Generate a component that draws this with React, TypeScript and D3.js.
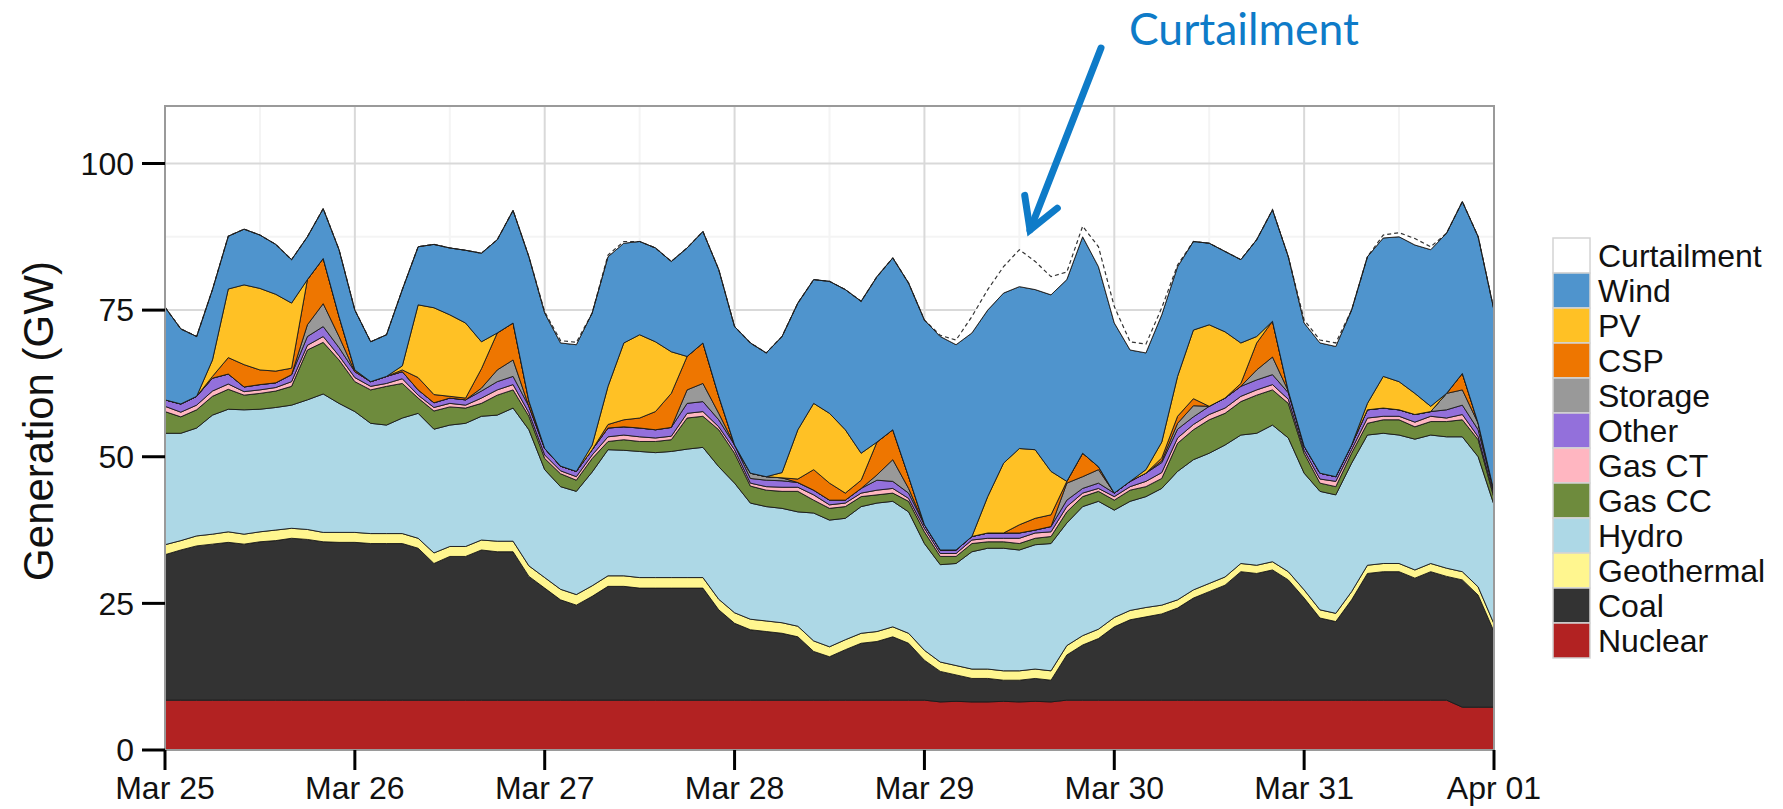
import React from "react";
import * as d3 from "d3";

// Hours since Mar 25 00:00 (2-hour sampling)
const hours = [
  0, 2, 4, 6, 8, 10, 12, 14, 16, 18, 20, 22,
  24, 26, 28, 30, 32, 34, 36, 38, 40, 42, 44, 46,
  48, 50, 52, 54, 56, 58, 60, 62, 64, 66, 68, 70,
  72, 74, 76, 78, 80, 82, 84, 86, 88, 90, 92, 94,
  96, 98, 100, 102, 104, 106, 108, 110, 112, 114, 116, 118,
  120, 122, 124, 126, 128, 130, 132, 134, 136, 138, 140, 142,
  144, 146, 148, 150, 152, 154, 156, 158, 160, 162, 164, 166,
  168,
];

const nuclear = [
  8.5, 8.5, 8.5, 8.5, 8.5, 8.5, 8.5, 8.5, 8.5, 8.5, 8.5, 8.5,
  8.5, 8.5, 8.5, 8.5, 8.5, 8.5, 8.5, 8.5, 8.5, 8.5, 8.5, 8.5,
  8.5, 8.5, 8.5, 8.5, 8.5, 8.5, 8.5, 8.5, 8.5, 8.5, 8.5, 8.5,
  8.5, 8.5, 8.5, 8.5, 8.5, 8.5, 8.5, 8.5, 8.5, 8.5, 8.5, 8.5,
  8.5, 8.2, 8.3, 8.2, 8.2, 8.3, 8.2, 8.3, 8.2, 8.5, 8.5, 8.5,
  8.5, 8.5, 8.5, 8.5, 8.5, 8.5, 8.5, 8.5, 8.5, 8.5, 8.5, 8.5,
  8.5, 8.5, 8.5, 8.5, 8.5, 8.5, 8.5, 8.5, 8.5, 8.5, 7.3, 7.3,
  7.3,
];

const coal = [
  24.8, 25.6, 26.3, 26.6, 26.9, 26.6, 27.0, 27.2, 27.6, 27.4, 27.0, 26.9,
  26.9, 26.7, 26.7, 26.7, 25.9, 23.3, 24.5, 24.5, 25.6, 25.3, 25.3, 21.1,
  19.1, 17.1, 16.2, 17.7, 19.4, 19.4, 19.1, 19.1, 19.1, 19.1, 19.1, 15.4,
  13.1, 12.0, 11.7, 11.4, 10.8, 8.3, 7.4, 8.6, 9.7, 10.0, 10.8, 9.7,
  6.8, 5.2, 4.5, 4.0, 4.0, 3.6, 3.7, 3.9, 3.7, 7.7, 9.4, 10.5,
  12.5, 13.7, 14.2, 14.7, 15.7, 17.4, 18.5, 19.6, 21.9, 21.6, 22.2, 20.5,
  17.4, 14.0, 13.4, 17.1, 21.6, 21.9, 21.9, 20.8, 21.9, 21.1, 21.7, 19.1,
  12.9,
];

const geothermal = [
  1.7, 1.6, 1.7, 1.7, 1.8, 1.7, 1.7, 1.8, 1.7, 1.7, 1.6, 1.7,
  1.7, 1.7, 1.7, 1.7, 1.7, 1.8, 1.7, 1.7, 1.7, 1.8, 1.8, 1.8,
  1.8, 1.8, 1.8, 1.8, 1.8, 1.8, 1.8, 1.8, 1.8, 1.8, 1.8, 1.8,
  1.8, 1.8, 1.8, 1.8, 1.8, 1.8, 1.7, 1.7, 1.7, 1.7, 1.7, 1.7,
  1.7, 1.6, 1.6, 1.6, 1.6, 1.6, 1.6, 1.6, 1.6, 1.6, 1.6, 1.6,
  1.6, 1.6, 1.6, 1.5, 1.4, 1.4, 1.4, 1.4, 1.4, 1.4, 1.4, 1.4,
  1.4, 1.4, 1.4, 1.4, 1.4, 1.4, 1.4, 1.4, 1.4, 1.4, 1.4, 1.4,
  1.3,
];

const hydro = [
  19.0, 18.3, 18.4, 20.3, 20.9, 21.2, 20.9, 20.9, 21.0, 22.1, 23.6, 22.0,
  20.6, 18.8, 18.5, 19.7, 21.3, 21.1, 20.7, 21.0, 21.1, 21.5, 22.7, 23.2,
  18.4, 17.5, 17.6, 19.4, 21.5, 21.4, 21.5, 21.3, 21.5, 21.9, 22.2, 22.6,
  22.1, 19.8, 19.5, 19.5, 19.5, 21.8, 21.6, 20.7, 21.6, 21.9, 21.4, 20.7,
  18.2, 16.6, 17.4, 20.0, 20.6, 20.9, 20.6, 21.2, 21.7, 20.9, 22.0, 21.8,
  18.3, 18.6, 18.9, 19.9, 21.9, 22.2, 22.2, 22.5, 21.9, 22.5, 23.3, 22.8,
  19.9, 20.2, 20.2, 21.9, 22.2, 22.2, 21.9, 22.3, 21.9, 22.4, 23.0, 22.2,
  20.3,
];

const gasCC = [
  3.7, 2.8, 3.1, 3.2, 3.4, 2.5, 2.7, 2.8, 3.2, 8.5, 8.8, 7.4,
  5.1, 5.7, 6.6, 5.9, 2.6, 3.1, 3.1, 2.6, 2.2, 3.4, 3.1, 2.3,
  1.9, 2.2, 1.9, 2.3, 1.4, 1.8, 1.7, 1.9, 2.0, 5.3, 5.3, 6.3,
  5.1, 2.9, 2.8, 2.9, 3.5, 2.2, 2.0, 2.0, 1.7, 1.4, 1.4, 1.8,
  2.0, 1.4, 1.2, 1.4, 1.1, 1.1, 1.1, 1.1, 1.2, 1.9, 1.7, 1.7,
  1.7, 1.9, 1.7, 1.7, 4.8, 5.1, 5.7, 5.4, 5.7, 6.5, 6.0, 5.9,
  3.4, 1.4, 1.4, 1.7, 2.0, 2.3, 2.6, 2.1, 2.3, 2.6, 2.9, 2.9,
  1.2,
];

const gasCT = [
  0.9, 0.8, 0.8, 0.9, 0.9, 0.6, 0.6, 0.6, 0.8, 0.8, 1.0, 0.7,
  0.7, 0.6, 0.5, 0.8, 0.5, 0.6, 0.6, 0.5, 0.9, 0.9, 0.9, 0.6,
  0.6, 0.5, 0.6, 0.6, 0.8, 0.8, 0.8, 0.6, 0.6, 0.8, 0.8, 0.5,
  0.6, 0.5, 0.6, 0.7, 0.7, 0.9, 0.6, 0.6, 0.6, 0.8, 0.8, 0.5,
  0.6, 0.5, 0.5, 0.6, 0.6, 0.6, 0.9, 0.9, 0.8, 0.9, 0.6, 0.5,
  0.6, 0.6, 0.9, 1.0, 0.9, 0.9, 0.9, 0.9, 0.9, 0.9, 0.9, 0.7,
  0.5, 0.7, 0.9, 0.6, 0.9, 0.6, 0.6, 0.8, 0.9, 0.6, 0.9, 0.5,
  0.5,
];

const other = [
  1.1, 1.4, 1.5, 2.2, 1.7, 0.8, 0.9, 0.8, 1.2, 1.5, 1.7, 1.4,
  1.0, 0.8, 1.2, 1.2, 0.9, 0.8, 0.9, 0.9, 1.2, 1.4, 1.4, 1.1,
  1.1, 0.8, 0.9, 0.9, 1.5, 1.4, 1.5, 1.4, 1.5, 1.7, 1.7, 1.2,
  0.8, 0.8, 1.1, 1.1, 0.8, 0.8, 0.8, 0.5, 0.8, 1.7, 1.2, 0.9,
  0.6, 0.6, 0.6, 0.6, 0.9, 0.9, 0.9, 0.5, 0.9, 1.1, 0.8, 0.9,
  0.6, 0.9, 1.4, 1.7, 1.5, 1.3, 1.4, 1.7, 1.7, 1.7, 1.7, 1.1,
  0.7, 1.0, 0.8, 0.8, 1.4, 1.4, 1.1, 1.3, 0.8, 1.4, 1.6, 1.2,
  0.6,
];

const storage = [
  0, 0, 0, 0, 0, 0, 0, 0, 0, 2.0, 3.9, 1.9,
  0, 0, 0, 0, 0, 0, 0, 0, 0.5, 2.0, 2.8, 0,
  0, 0, 0, 0, 0, 0, 0, 0, 0, 2.3, 3.1, 1.1,
  0, 0.9, 0.6, 0.5, 0, 0, 0, 0, 0, 0.9, 3.7, 0.8,
  0, 0, 0, 0, 0, 0, 0, 0, 0, 2.9, 2.0, 2.3,
  0, 0, 0, 0.3, 1.0, 1.9, 0, 0, 0, 1.7, 3.0, 0.3,
  0, 0, 0, 0, 0, 0, 0, 0, 0, 2.8, 2.6, 1.1,
  0,
];

const csp = [
  0, 0, 0, 0.3, 2.8, 3.8, 2.5, 2.0, 1.1, 7.7, 7.7, 3.4,
  0.3, 0, 0, 0.3, 2.1, 1.4, 0.3, 0.3, 3.3, 6.3, 6.3, 0.9,
  0, 0, 0, 0, 0.6, 1.2, 1.7, 3.1, 5.8, 5.7, 6.9, 2.9,
  0, 0, 0, 0, 0.6, 3.5, 2.9, 1.2, 1.4, 5.6, 5.1, 2.0,
  0, 0, 0, 0, 0, 0, 1.4, 2.0, 2.0, 0.3, 4.0, 0.5,
  0, 0, 0, 0.5, 1.2, 1.2, 0, 0, 0.5, 4.6, 6.1, 0,
  0, 0, 0, 0, 0, 0, 0, 0, 0, 0, 2.8, 0,
  0,
];

const pv = [
  0, 0, 0, 2.8, 11.7, 13.6, 13.9, 13.1, 11.1, 0, 0, 0,
  0, 0, 0, 0.7, 12.4, 14.8, 13.9, 12.8, 4.6, 0, 0, 0,
  0, 0, 0, 0.8, 6.5, 13.1, 14.2, 11.9, 7.1, 0, 0, 0,
  0, 0, 0, 0.9, 8.4, 11.3, 11.9, 10.8, 4.6, 0, 0, 0,
  0, 0, 0, 0, 6.2, 11.9, 13.0, 11.7, 7.4, 0, 0, 0,
  0, 0, 0.6, 2.7, 6.8, 11.7, 13.9, 11.3, 6.9, 1.1, 0, 0,
  0, 0, 0, 0, 1.1, 5.4, 4.8, 3.6, 0.9, 0, 0, 0,
  0,
];

const wind = [
  15.8, 12.8, 10.2, 12.0, 9.0, 9.5, 9.1, 8.5, 7.4, 7.3, 8.5, 11.4,
  10.2, 6.8, 7.1, 13.0, 9.9, 10.8, 11.4, 12.4, 15.1, 15.9, 19.2, 24.6,
  23.1, 21.0, 21.6, 22.5, 22.1, 17.0, 15.9, 16.0, 15.4, 18.5, 19.0, 21.6,
  20.2, 22.2, 21.1, 23.2, 21.6, 21.1, 22.5, 23.9, 25.9, 28.2, 29.3, 33.0,
  34.9, 36.4, 35.0, 34.7, 31.8, 29.0, 27.6, 27.3, 30.1, 34.4, 36.9, 34.1,
  29.0, 22.4, 19.9, 21.7, 18.7, 15.1, 13.9, 13.7, 14.2, 16.5, 19.0, 22.9,
  21.0, 22.2, 22.2, 23.0, 25.0, 23.6, 24.7, 25.3, 26.7, 27.3, 29.3, 31.8,
  30.9,
];

const curtailment = [
  0, 0, 0, 0, 0, 0, 0, 0, 0, 0, 0, 0,
  0, 0, 0, 0, 0, 0, 0, 0, 0, 0, 0, 0,
  0.2, 0.4, 0.4, 0, 0.3, 0.3, 0, 0, 0, 0, 0, 0,
  0, 0, 0, 0, 0, 0, 0, 0, 0, 0, 0, 0,
  0, 0.2, 0.8, 2.8, 3.5, 4.5, 6.3, 4.8, 3.1, 1.3, 1.8, 3.4,
  2.8, 1.4, 1.5, 1.2, 0.3, 0, 0, 0, 0, 0, 0, 0,
  0.5, 0.5, 0.6, 0, 0, 0.5, 0.7, 1.1, 0.5, 0, 0, 0,
  0,
];

const dayLabels = ["Mar 25", "Mar 26", "Mar 27", "Mar 28", "Mar 29", "Mar 30", "Mar 31", "Apr 01"];
const dayHours = [0, 24, 48, 72, 96, 120, 144, 168];
const yTicks = [0, 25, 50, 75, 100];

// bottom -> top stacking order
const seriesNames = ["Nuclear", "Coal", "Geothermal", "Hydro", "Gas CC", "Gas CT", "Other", "Storage", "CSP", "PV", "Wind", "Curtailment"];
const seriesValues = [nuclear, coal, geothermal, hydro, gasCC, gasCT, other, storage, csp, pv, wind, curtailment];
const seriesColors = ["#B22222", "#333333", "#FFF68F", "#ADD8E6", "#6E8B3D", "#FFB6C1", "#9370DB", "#999999", "#EE7600", "#FFC125", "#4F94CD", "#FFFFFF"];

const FONT = "'Liberation Sans', Arial, Helvetica, sans-serif";

export default function App() {
  const x = d3.scaleLinear().domain([0, 168]).range([165, 1494]);
  const y = d3.scaleLinear().domain([0, 109.8]).range([750, 106]);

  const rows = hours.map((h, i) => {
    const r: any = { h };
    seriesNames.forEach((n, k) => (r[n] = seriesValues[k][i]));
    return r;
  });
  const stacked = d3.stack().keys(seriesNames)(rows);

  const area = d3
    .area<any>()
    .x((d) => x(d.data.h))
    .y0((d) => y(d[0]))
    .y1((d) => y(d[1]));
  const topLine = d3
    .line<any>()
    .x((d) => x(d.data.h))
    .y((d) => y(d[1]));

  const [x0, x1] = x.range();
  const [yb, yt] = y.range();
  const minorY = [12.5, 37.5, 62.5, 87.5];
  const minorX = [12, 36, 60, 84, 108, 132, 156];

  const legendOrder = [...seriesNames].reverse();
  const blue = "#0E7BC8";

  // arrow geometry
  const aStart = [1101, 48];
  const aTip = [1030, 230];
  const dx = aTip[0] - aStart[0];
  const dy = aTip[1] - aStart[1];
  const len = Math.hypot(dx, dy);
  const bx = -dx / len;
  const by = -dy / len;
  const rot = (ang: number) => [bx * Math.cos(ang) - by * Math.sin(ang), bx * Math.sin(ang) + by * Math.cos(ang)];
  const armLen = 35;
  const r1 = rot(Math.PI / 6);
  const r2 = rot(-Math.PI / 6);
  const arm1 = [aTip[0] + r1[0] * armLen, aTip[1] + r1[1] * armLen];
  const arm2 = [aTip[0] + r2[0] * armLen, aTip[1] + r2[1] * armLen];

  const windLayer = stacked[10];
  const curtLayer = stacked[11];

  return (
    <svg
      width={1783}
      height={809}
      style={{ position: "absolute", left: 0, top: 0, background: "#fff" }}
      fontFamily={FONT}
    >
      <rect x={0} y={0} width={1783} height={809} fill="#fff" />
      {/* grid */}
      {minorY.map((v) => (
        <line key={"my" + v} x1={x0} x2={x1} y1={y(v)} y2={y(v)} stroke="#F4F4F4" strokeWidth={2} />
      ))}
      {minorX.map((h) => (
        <line key={"mx" + h} x1={x(h)} x2={x(h)} y1={yb} y2={yt} stroke="#F4F4F4" strokeWidth={2} />
      ))}
      {yTicks.map((v) => (
        <line key={"gy" + v} x1={x0} x2={x1} y1={y(v)} y2={y(v)} stroke="#D9D9D9" strokeWidth={2} />
      ))}
      {dayHours.map((h) => (
        <line key={"gx" + h} x1={x(h)} x2={x(h)} y1={yb} y2={yt} stroke="#D9D9D9" strokeWidth={2} />
      ))}

      {/* stacked areas */}
      {stacked.slice(0, 11).map((layer, k) => (
        <path key={seriesNames[k]} d={area(layer) || ""} fill={seriesColors[k]} stroke="#1a1a1a" strokeWidth={0.9} strokeLinejoin="round" />
      ))}
      {/* curtailment */}
      <path d={area(curtLayer) || ""} fill="#FFFFFF" stroke="none" />
      <path d={topLine(curtLayer) || ""} fill="none" stroke="#333" strokeWidth={1.2} strokeDasharray="4,3" />
      <path d={topLine(windLayer) || ""} fill="none" stroke="#1a1a1a" strokeWidth={0.9} />

      {/* panel border */}
      <rect x={x0} y={yt} width={x1 - x0} height={yb - yt} fill="none" stroke="#9A9A9A" strokeWidth={2} />

      {/* y axis */}
      {yTicks.map((v) => (
        <g key={"yt" + v}>
          <line x1={142} x2={x0} y1={y(v)} y2={y(v)} stroke="#000" strokeWidth={3} />
          <text x={134} y={y(v)} dy="0.35em" textAnchor="end" fontSize={32} fill="#111">
            {v}
          </text>
        </g>
      ))}
      {/* x axis */}
      {dayHours.map((h, i) => (
        <g key={"xt" + h}>
          <line x1={x(h)} x2={x(h)} y1={yb} y2={770} stroke="#000" strokeWidth={3} />
          <text x={x(h)} y={799} textAnchor="middle" fontSize={32} fill="#111">
            {dayLabels[i]}
          </text>
        </g>
      ))}
      <text
        transform="translate(38,421) rotate(-90)"
        textAnchor="middle"
        dy="0.35em"
        fontSize={42}
        fill="#111"
      >
        Generation (GW)
      </text>

      {/* legend */}
      {legendOrder.map((name, i) => {
        const k = seriesNames.indexOf(name);
        const yy = 238 + 35 * i;
        return (
          <g key={"lg" + name}>
            <rect x={1553} y={yy} width={37} height={35} fill={seriesColors[k]} stroke="#D4D4D4" strokeWidth={1.5} />
            <text x={1598} y={yy + 17.5} dy="0.35em" fontSize={32} fill="#111">
              {name}
            </text>
          </g>
        );
      })}

      {/* annotation */}
      <text x={1129} y={45} fontFamily="Lato, 'Open Sans', sans-serif" fontSize={44} fill={blue} textLength={230} lengthAdjust="spacingAndGlyphs">
        Curtailment
      </text>
      <path d={`M${aStart[0]},${aStart[1]} L${aTip[0]},${aTip[1]}`} stroke={blue} strokeWidth={7} fill="none" strokeLinecap="round" />
      <path d={`M${arm1[0]},${arm1[1]} L${aTip[0]},${aTip[1]} L${arm2[0]},${arm2[1]}`} stroke={blue} strokeWidth={7} fill="none" strokeLinecap="round" strokeLinejoin="miter" />
    </svg>
  );
}
